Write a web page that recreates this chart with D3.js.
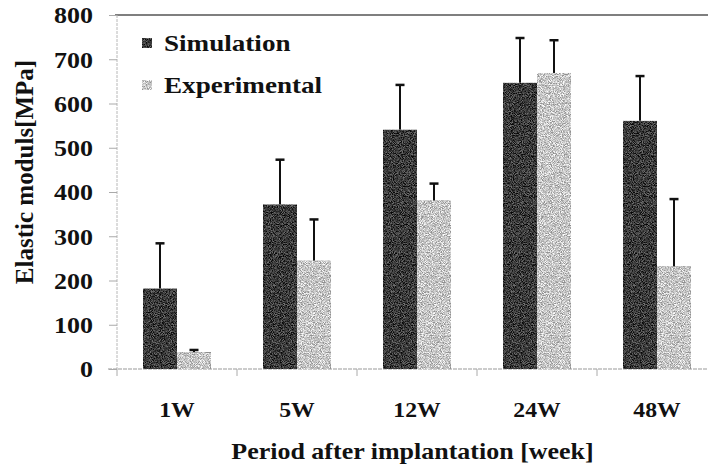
<!DOCTYPE html>
<html>
<head>
<meta charset="utf-8">
<script src="https://cdn.jsdelivr.net/npm/d3@7"></script>
<style>
  html, body { margin: 0; padding: 0; background: #fff; }
  svg { display: block; }
  text { font-family: "Liberation Serif", "Times New Roman", serif; font-weight: bold; fill: #111; }
</style>
</head>
<body>
<svg id="chart" width="708" height="470"></svg>
<script>
// Elastic modulus per implantation period: simulation vs. experiment
const categories   = ["1W", "5W", "12W", "24W", "48W"];
const seriesNames  = ["Simulation", "Experimental"];
const simulation   = [182, 372, 541, 647, 561];
const simError     = [102, 101, 101, 101, 101];
const experimental = [38, 245, 381, 669, 232];
const expError     = [5, 93, 38, 74, 152];
const yTicks       = [0, 100, 200, 300, 400, 500, 600, 700, 800];

const svg = d3.select("#chart");
const W = 708, H = 470;
const plot = { left: 117, right: 717, top: 15, bottom: 369 };
const stretch = 1.13; // horizontal glyph stretch of the labels

// grain texture for the bars
const defs = svg.append("defs");
const f = defs.append("filter").attr("id", "grain")
  .attr("x", 0).attr("y", 0).attr("width", 1).attr("height", 1)
  .attr("color-interpolation-filters", "sRGB");
f.append("feTurbulence").attr("type", "fractalNoise").attr("baseFrequency", 1.1)
  .attr("numOctaves", 2).attr("seed", 7).attr("result", "noise");
f.append("feColorMatrix").attr("in", "noise").attr("type", "matrix")
  .attr("values", "2.4 0 0 0 -0.7  2.4 0 0 0 -0.7  2.4 0 0 0 -0.7  0 0 0 0 1")
  .attr("result", "gray");
f.append("feComposite").attr("in", "SourceGraphic").attr("in2", "gray")
  .attr("operator", "arithmetic").attr("k1", 0).attr("k2", 1).attr("k3", 0.42).attr("k4", -0.21)
  .attr("result", "mix");
f.append("feComposite").attr("in", "mix").attr("in2", "SourceGraphic").attr("operator", "in");

const colors = d3.scaleOrdinal().domain(seriesNames).range(["#3a3a3a", "#c6c6c6"]);

const x = d3.scaleBand().domain(categories).range([plot.left, plot.right]).paddingInner(0).paddingOuter(0);
const xs = d3.scaleBand().domain(seriesNames).range([0, x.bandwidth()]).paddingInner(0).paddingOuter(0.765);
const y = d3.scaleLinear().domain([0, 800]).range([plot.bottom, plot.top]);

// stretched horizontal text helper
function stext(sel, tx, ty) {
  return sel.attr("transform", `translate(${tx},${ty}) scale(${stretch},1)`);
}

// frame: top border, left axis, baseline
svg.append("line").attr("x1", plot.left - 2).attr("x2", W).attr("y1", y(800)).attr("y2", y(800))
  .attr("stroke", "#555").attr("stroke-width", 1.6);
svg.append("line").attr("x1", plot.left).attr("x2", plot.left).attr("y1", y(800)).attr("y2", y(0))
  .attr("stroke", "#b8b8b8").attr("stroke-width", 1).attr("stroke-dasharray", "3,1");
svg.append("line").attr("x1", plot.left - 9).attr("x2", W).attr("y1", y(0)).attr("y2", y(0))
  .attr("stroke", "#999").attr("stroke-width", 1).attr("stroke-dasharray", "4,1");

// y axis
const yAxis = d3.axisLeft(y).tickValues(yTicks).tickSize(8).tickPadding(0).tickFormat(d3.format("d"));
const gy = svg.append("g").attr("transform", `translate(${plot.left},0)`).call(yAxis);
gy.select(".domain").remove();
gy.selectAll(".tick line").attr("stroke", "#aaa");
gy.selectAll(".tick text").remove();
gy.selectAll(".tick").each(function(d) {
  d3.select(this).append("text")
    .attr("text-anchor", "end").attr("dominant-baseline", "central")
    .style("font-size", "23px")
    .call(s => stext(s, -24, 0))
    .text(d);
});

// category boundary ticks (left edge of each band plus the far edge)
const edges = categories.map(c => x(c)).concat([plot.right]);
svg.append("g").selectAll("line").data(edges).join("line")
  .attr("x1", d => d).attr("x2", d => d)
  .attr("y1", plot.bottom).attr("y2", plot.bottom + 7)
  .attr("stroke", "#aaa");

// category labels
const xAxis = d3.axisBottom(x).tickSize(0).tickPadding(0);
const gx = svg.append("g").attr("transform", `translate(0,${plot.bottom})`).call(xAxis);
gx.select(".domain").remove();
gx.selectAll(".tick text").remove();
gx.selectAll(".tick").append("text")
  .attr("text-anchor", "middle").style("font-size", "21px")
  .each(function() { stext(d3.select(this), 0, 48); })
  .text(d => d);

// bars
const rows = categories.map((c, i) => ({
  cat: c,
  vals: [
    { series: "Simulation", v: simulation[i], e: simError[i] },
    { series: "Experimental", v: experimental[i], e: expError[i] }
  ]
}));
const groups = svg.append("g").selectAll("g").data(rows).join("g")
  .attr("transform", d => `translate(${x(d.cat)},0)`);
groups.selectAll("rect").data(d => d.vals).join("rect")
  .attr("x", d => xs(d.series)).attr("width", xs.bandwidth())
  .attr("y", d => y(d.v)).attr("height", d => y(0) - y(d.v))
  .attr("fill", d => colors(d.series)).attr("filter", "url(#grain)");

// upper error bars
const eb = groups.selectAll("g.err").data(d => d.vals).join("g").attr("class", "err");
eb.append("line")
  .attr("x1", d => xs(d.series) + xs.bandwidth() / 2).attr("x2", d => xs(d.series) + xs.bandwidth() / 2)
  .attr("y1", d => y(d.v)).attr("y2", d => y(d.v + d.e))
  .attr("stroke", "#111").attr("stroke-width", 2);
eb.append("line")
  .attr("x1", d => xs(d.series) + xs.bandwidth() / 2 - 4.5).attr("x2", d => xs(d.series) + xs.bandwidth() / 2 + 4.5)
  .attr("y1", d => y(d.v + d.e)).attr("y2", d => y(d.v + d.e))
  .attr("stroke", "#111").attr("stroke-width", 2.5);

// legend
const lg = svg.append("g").selectAll("g").data(seriesNames).join("g")
  .attr("transform", (d, i) => `translate(142,${43 + i * 42})`);
lg.append("rect").attr("x", 0).attr("y", -5).attr("width", 10).attr("height", 10)
  .attr("fill", d => colors(d)).attr("filter", "url(#grain)");
lg.append("text").attr("dominant-baseline", "central").style("font-size", "24px")
  .each(function() { stext(d3.select(this), 22, 0); })
  .text(d => d);

// axis titles
svg.append("text").attr("text-anchor", "middle").style("font-size", "23px")
  .call(s => stext(s, (plot.left + W) / 2, 459))
  .text("Period after implantation [week]");
svg.append("text").attr("text-anchor", "middle").style("font-size", "25px")
  .attr("transform", "translate(33,172) rotate(-90)")
  .text("Elastic moduls[MPa]");
</script>
</body>
</html>
